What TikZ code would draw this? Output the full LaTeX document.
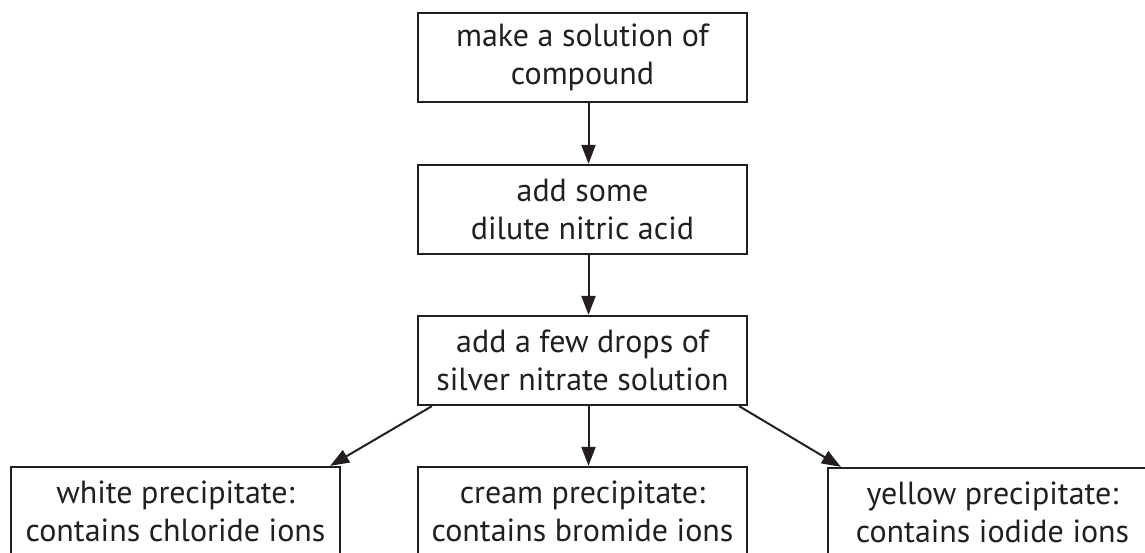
\documentclass[tikz,border=0pt]{standalone}
\usepackage{fontspec}
\setmainfont{PT Sans}
\usetikzlibrary{arrows.meta}
\definecolor{inkgray}{RGB}{35,31,32}

\begin{document}
\begin{tikzpicture}[x=1pt, y=-1pt, every node/.style={font=\fontsize{32}{38}\selectfont, text=inkgray}]
            \tikzset{
              stepbox/.style={draw=inkgray, line width=2.3pt, align=center, inner sep=0pt,
                minimum width=329pt, minimum height=89pt},
              flowarrow/.style={draw=inkgray, line width=2pt, -{Triangle[length=19pt, width=14pt]}}
            }
            \useasboundingbox (0,0) rectangle (1145,552);
            % Steps
            \node[stepbox] (make) at (582.5,57.5) {make a solution of\\compound};
            \node[stepbox] (acid) at (582.5,209.5) {add some\\dilute nitric acid};
            \node[stepbox] (silver) at (582.5,360.5) {add a few drops of\\silver nitrate solution};
            
            % Results
            \node[stepbox] (white) at (175.5,511.5) {white precipitate:\\contains chloride ions};
            \node[stepbox] (cream) at (582.5,511.5) {cream precipitate:\\contains bromide ions};
            \node[stepbox] (yellow) at (992.5,512.5) {yellow precipitate:\\contains iodide ions};
            
            % Arrows
            \draw[flowarrow] ([xshift=6pt]make.south) -- ([xshift=6pt]acid.north);
            \draw[flowarrow] ([xshift=6pt]acid.south) -- ([xshift=6pt]silver.north);
            \draw[flowarrow] ([xshift=6pt]silver.south) -- ([xshift=6pt]cream.north);
            \draw[flowarrow] ([xshift=15pt]silver.south west) -- ([xshift=-11pt]white.north east);
            \draw[flowarrow] ([xshift=-9pt]silver.south east) -- ([xshift=14pt]yellow.north west);
        \end{tikzpicture}
\end{document}
